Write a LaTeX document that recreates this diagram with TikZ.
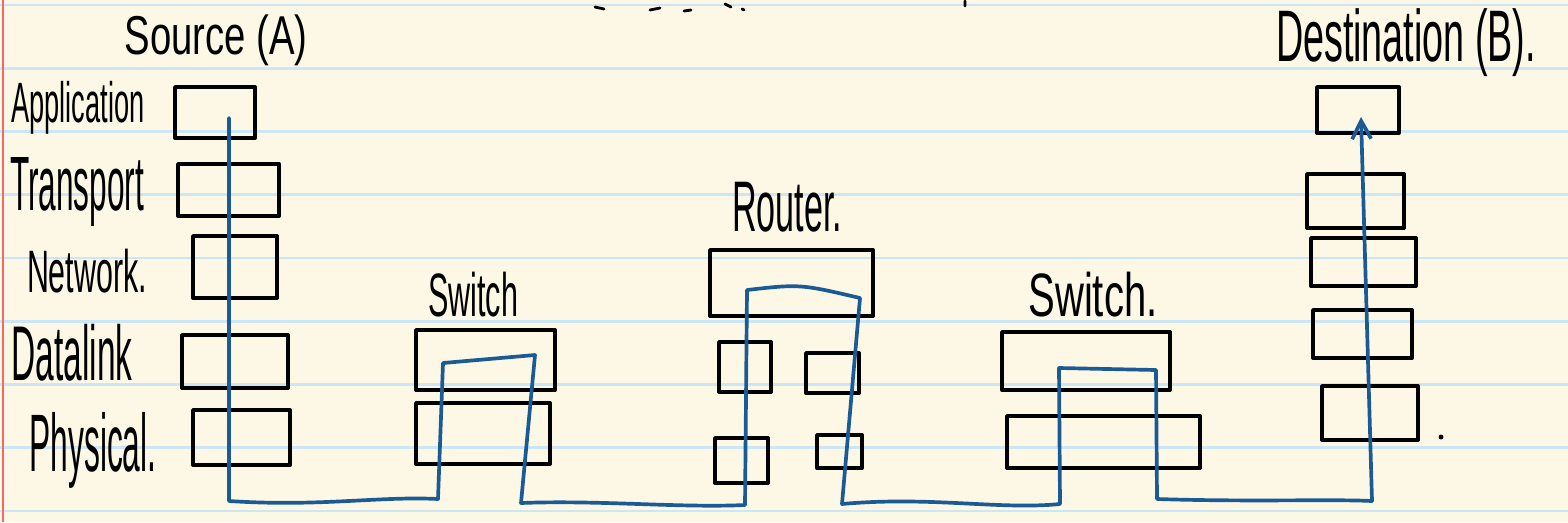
\documentclass[tikz,border=0pt]{standalone}
\usepackage{fontspec}
\setmainfont{Liberation Sans}
\usepackage{graphicx}
\usetikzlibrary{arrows.meta,fit}
\definecolor{paper}{HTML}{FDF8E6}
\definecolor{rule}{HTML}{CDE6F6}
\definecolor{margin}{HTML}{EF6B6B}
\definecolor{pen}{HTML}{1B5B95}
% squeeze a handwritten-looking label into its box
\newcommand\scrawl[3]{\resizebox*{#1}{#2}{#3}}

\begin{document}
\begin{tikzpicture}[x=0.02cm,y=-0.02cm,
  layer/.style={draw=black,line width=2.2pt,inner sep=0pt,line join=round},
  ink/.style={black,line width=1.6pt,line cap=round},
  wire/.style={pen,line width=2.1pt,line cap=round,line join=round},
  ruling/.style={rule,line width=1.6pt},
  lab/.style={inner sep=0pt,text=black}]
  % paper
  \fill[paper] (0,0) rectangle (1568,522);
  \useasboundingbox (0,0) rectangle (1568,522);
  \foreach \k in {0,...,8}
    \draw[ruling] (0,{5+63.25*\k}) -- (1568,{5+63.25*\k});
  \draw[margin,line width=1.2pt] (3,0) -- (3,522);

  % titles and layer names
  \node[lab] (lSrc) at (216,40)  {\scrawl{3.66cm}{1.02cm}{Source (A)}};
  \node[lab] (lDst) at (1406,43) {\scrawl{5.20cm}{1.36cm}{Destination (B).}};
  \node[lab] (lApp) at (78,108)  {\scrawl{2.66cm}{1.06cm}{Application}};
  \node[lab] (lTra) at (77,192)  {\scrawl{2.68cm}{1.38cm}{Transport}};
  \node[lab] (lNet) at (87,271)  {\scrawl{2.40cm}{0.88cm}{Network.}};
  \node[lab] (lDat) at (72,353)  {\scrawl{2.42cm}{1.14cm}{Datalink}};
  \node[lab] (lPhy) at (93,450)  {\scrawl{2.54cm}{1.52cm}{Physical.}};
  \node[lab] (lSw1) at (473,295) {\scrawl{1.80cm}{0.90cm}{Switch}};
  \node[lab] (lRou) at (787,207) {\scrawl{2.20cm}{1.00cm}{Router.}};
  \node[lab] (lSw2) at (1093,295) {\scrawl{2.58cm}{0.90cm}{Switch.}};

  % source stack
  \node[layer,fit={(175,87) (255,138)}]  (sA) {};
  \node[layer,fit={(178,164) (279,216)}] (sT) {};
  \node[layer,fit={(193,236) (277,298)}] (sN) {};
  \node[layer,fit={(182,335) (288,388)}] (sD) {};
  \node[layer,fit={(193,410) (290,465)}] (sP) {};
  % first switch
  \node[layer,fit={(416,330) (555,390)}] (w1a) {};
  \node[layer,fit={(416,403) (550,464)}] (w1b) {};
  % router
  \node[layer,fit={(710,250) (873,316)}] (rN) {};
  \node[layer,fit={(719,342) (771,392)}] (rD1) {};
  \node[layer,fit={(806,353) (859,393)}] (rD2) {};
  \node[layer,fit={(715,438) (768,483)}] (rP1) {};
  \node[layer,fit={(817,435) (862,468)}] (rP2) {};
  % second switch
  \node[layer,fit={(1002,332) (1170,390)}] (w2a) {};
  \node[layer,fit={(1007,416) (1200,468)}] (w2b) {};
  % destination stack
  \node[layer,fit={(1317,87) (1399,133)}]  (dA) {};
  \node[layer,fit={(1307,174) (1404,228)}] (dT) {};
  \node[layer,fit={(1311,238) (1416,286)}] (dN) {};
  \node[layer,fit={(1313,310) (1412,358)}] (dD) {};
  \node[layer,fit={(1322,386) (1418,440)}] (dP) {};
  \fill (1441,437) circle (1.4pt);

  % path of the data
  \coordinate (srcTop) at (229,118);
  \coordinate (srcBot) at (229,501);
  \coordinate (sw1L)  at (438,499);
  \coordinate (sw1Lt) at (443,363);
  \coordinate (sw1Rt) at (535,355);
  \coordinate (sw1R)  at (521,503);
  \coordinate (rtL)   at (745,505);
  \coordinate (rtLt)  at (747,290);
  \coordinate (rtRt)  at (860,298);
  \coordinate (rtR)   at (842,504);
  \coordinate (sw2L)  at (1060,504);
  \coordinate (sw2Lt) at (1059,368);
  \coordinate (sw2Rt) at (1156,370);
  \coordinate (sw2R)  at (1157,499);
  \coordinate (dstBot) at (1372,501);
  \coordinate (dstTop) at (1361,117);
  \draw[wire,-{Straight Barb[length=3.6mm,width=3.8mm]}]
    (srcTop) -- (srcBot)
    .. controls (320,507) and (380,496) .. (sw1L)
    -- (sw1Lt) -- (sw1Rt) -- (sw1R)
    .. controls (600,500) and (680,508) .. (rtL)
    -- (rtLt) .. controls (800,284) .. (rtRt) -- (rtR)
    .. controls (930,496) and (1000,510) .. (sw2L)
    -- (sw2Lt) -- (sw2Rt) -- (sw2R)
    .. controls (1250,502) and (1330,499) .. (dstBot)
    -- (dstTop);

  % bits of the line above, cut off
  \draw[ink] (595,7) -- (604,9) (650,10) -- (660,8) (684,11) -- (691,10)
    (725,4) -- (731,7) (742,9) -- (744,10) (965,1) -- (965,6);
\end{tikzpicture}
\end{document}
